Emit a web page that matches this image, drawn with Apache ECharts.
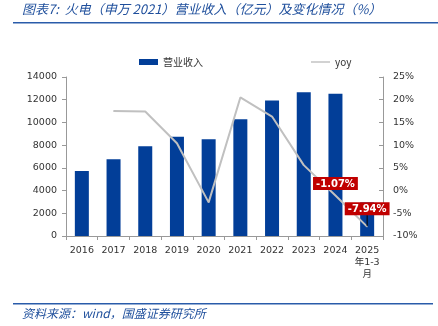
<!DOCTYPE html>
<html><head><meta charset="utf-8">
<script src="https://cdn.jsdelivr.net/npm/echarts@6/dist/echarts.min.js"></script>
<style>html,body{margin:0;padding:0;background:#fff}#c{width:438px;height:326px}</style>
</head><body><div id="c"></div>
<script>
const categories = ['2016','2017','2018','2019','2020','2021','2022','2023','2024','2025\n年1-3\n月'];
const revenue = [5720, 6750, 7900, 8740, 8510, 10270, 11940, 12650, 12530, 2960];
const yoy = [null, 17.5, 17.4, 10.4, -2.6, 20.5, 16.3, 5.6, -1.07, -7.94];
const leftTicks = [0, 2000, 14000];
const rightTicks = [-10, 25];

const chart = echarts.init(document.getElementById('c'), null, {renderer:'canvas'});
const font = '"Noto Sans CJK SC", "DejaVu Sans", sans-serif';
const axFont = '"DejaVu Sans", "Noto Sans CJK SC"';
const labelStyle = {
  show: true, position: 'top', distance: 5,
  backgroundColor: '#c00000', color: '#fff', fontWeight: 'bold',
  fontSize: 10, fontFamily: 'DejaVu Sans', padding: [2, 3, 1, 3],
  formatter: p => p.value.toFixed(2) + '%'
};
const labelStyle2 = Object.assign({}, labelStyle, {distance: 1});
chart.setOption({
  animation: false,
  textStyle: {fontFamily: font},
  graphic: [
    {type:'text', left: 22, top: 3, style:{text:'图表7:  火电（申万 2021）营业收入（亿元）及变化情况（%）', fontSize: 13, fontStyle:'italic', fill:'#1f4f9c', fontFamily: font}},
    {type:'rect', shape:{x:13, y:22, width:425, height:1.5}, style:{fill:'#2a5caa'}},
    {type:'rect', shape:{x:13, y:303, width:420, height:1.5}, style:{fill:'#2a5caa'}},
    {type:'text', left: 22, top: 307, style:{text:'资料来源：wind，国盛证券研究所', fontSize: 12, fontStyle:'italic', fill:'#1f4f9c', fontFamily: font}}
  ],
  legend: {
    top: 52, left: 134, itemGap: 108, itemWidth: 19, itemHeight: 6,
    textStyle: {fontSize: 10, color: '#333', fontFamily: font},
    data: [
      {name:'营业收入', icon:'rect'},
      {name:'yoy', icon:'path://M0,0 L20,0 L20,1.5 L0,1.5 Z', itemStyle:{color:'#c0c0c0'}}
    ]
  },
  grid: {left: 66, right: 55, top: 77, bottom: 90},
  xAxis: {
    type: 'category', data: categories, boundaryGap: true,
    axisLine: {lineStyle: {color: '#999'}},
    axisTick: {show: true, alignWithLabel: false, length: 4, lineStyle:{color:'#999'}},
    axisLabel: {color: '#333', fontSize: 9.5, fontFamily: axFont, lineHeight: 12, margin: 9, interval: 0}
  },
  yAxis: [
    {type: 'value', min: leftTicks[0], max: leftTicks[2], interval: leftTicks[1],
      axisLine: {show: true, lineStyle: {color: '#999'}},
      axisTick: {show: true, length: 4, lineStyle:{color:'#999'}},
      splitLine: {show: false},
      axisLabel: {color: '#333', fontSize: 9.5, fontFamily: axFont, margin: 9, formatter: v => String(v)}},
    {type: 'value', min: rightTicks[0], max: rightTicks[1], interval: 5, position: 'right',
      axisLine: {show: true, lineStyle: {color: '#999'}},
      axisTick: {show: true, inside: true, length: 4, lineStyle:{color:'#999'}},
      splitLine: {show: false},
      axisLabel: {color: '#333', fontSize: 9.5, fontFamily: axFont, margin: 10, formatter: '{value}%'}}
  ],
  series: [
    {name: '营业收入', type: 'bar', data: revenue, barWidth: 14, itemStyle: {color: '#023e98'}, z: 2},
    {name: 'yoy', type: 'line', yAxisIndex: 1, symbol: 'circle', symbolSize: 1, showSymbol: true, connectNulls: false,
      lineStyle: {color: '#c0c0c0', width: 2}, itemStyle:{color:'#c0c0c0'}, z: 3,
      labelLine: {show: true, lineStyle: {color: '#000', width: 1}},
      labelLayout: p => (p.dataIndex === 9 ? {dy: -10} : {}),
      data: yoy.map((v, i) => (i === 8 ? {value: v, label: labelStyle, labelLine: {show: false}} : i === 9 ? {value: v, label: labelStyle2} : v))}
  ]
});
</script></body></html>
